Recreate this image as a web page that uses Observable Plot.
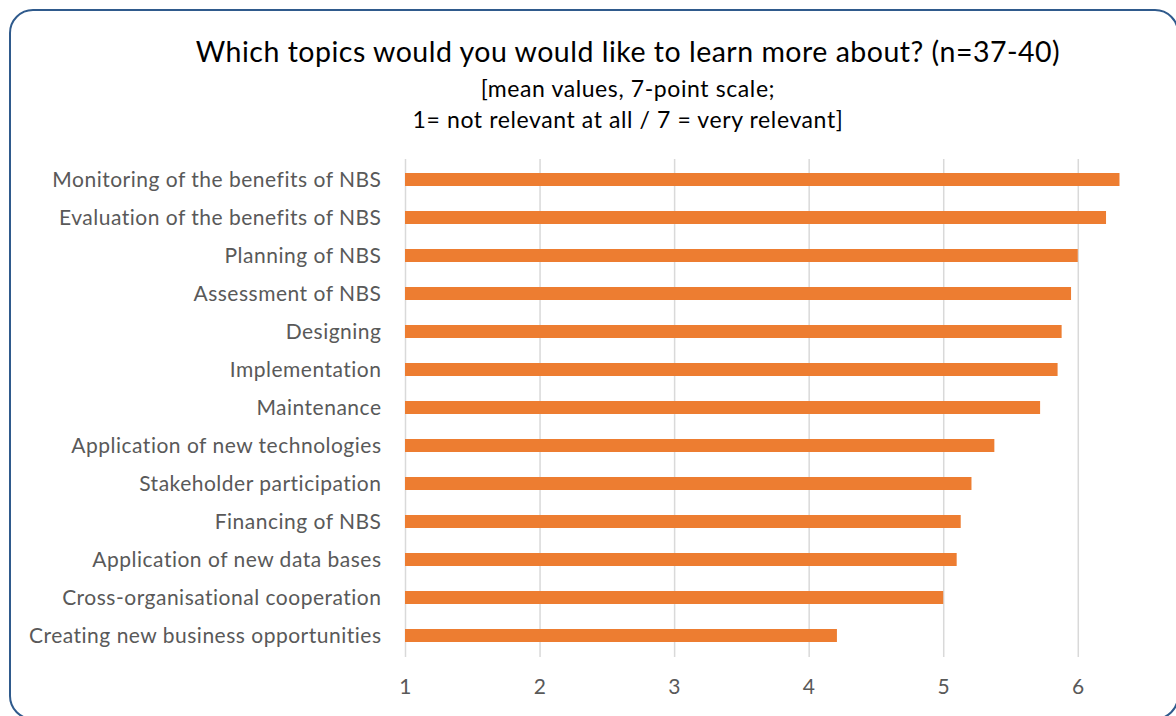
<!DOCTYPE html>
<html>
<head>
<meta charset="utf-8">
<script src="https://cdn.jsdelivr.net/npm/d3@7"></script>
<script src="https://cdn.jsdelivr.net/npm/@observablehq/plot@0.6"></script>
<style>
  html, body { margin: 0; padding: 0; background: #fff; overflow: hidden; }
  #wrap { position: relative; width: 1176px; height: 716px; overflow: hidden; font-family: Lato, sans-serif; }
  #frame { position: absolute; left: 9px; top: 9px; width: 1170px; height: 711px; border: 2px solid #2F5A8C; border-radius: 24px; box-sizing: border-box; }
  .t { position: absolute; left: 0; width: 1256px; text-align: center; color: #000; white-space: nowrap; line-height: 1; }
  #title { top: 37px; font-size: 28.5px; letter-spacing: 0.5px; }
  #sub1 { top: 77px; font-size: 23px; letter-spacing: 0.6px; }
  #sub2 { top: 108px; font-size: 23px; letter-spacing: 0.6px; }
  #chart { position: absolute; left: 0; top: 0; }
</style>
</head>
<body>
<div id="wrap">
  <div id="frame"></div>
  <div class="t" id="title">Which topics would you would like to learn more about? (n=37-40)</div>
  <div class="t" id="sub1">[mean values, 7-point scale;</div>
  <div class="t" id="sub2">1= not relevant at all / 7 = very relevant]</div>
  <div id="chart"></div>
</div>
<script>
const topics = [
  "Monitoring of the benefits of NBS",
  "Evaluation of the benefits of NBS",
  "Planning of NBS",
  "Assessment of NBS",
  "Designing",
  "Implementation",
  "Maintenance",
  "Application of new technologies",
  "Stakeholder participation",
  "Financing of NBS",
  "Application of new data bases",
  "Cross-organisational cooperation",
  "Creating new business opportunities"
];
const means = [6.31, 6.21, 6.00, 5.95, 5.88, 5.85, 5.72, 5.38, 5.21, 5.13, 5.10, 5.00, 4.21];
const xTicks = [1, 2, 3, 4, 5, 6];

const data = topics.map((t, i) => ({topic: t, value: means[i]}));

const chart = Plot.plot({
  width: 1176,
  height: 716,
  marginLeft: 405,
  marginRight: 0,
  marginTop: 159,
  marginBottom: 59,
  style: {fontFamily: "Lato, sans-serif", fontSize: "21px", letterSpacing: "0.5px", color: "#595959", background: "transparent"},
  x: {domain: [1, 6.73], ticks: xTicks, tickFormat: d => String(d), label: null},
  y: {domain: topics, paddingInner: 0.65, paddingOuter: 0.32, label: null},
  marks: [
    Plot.gridX(xTicks, {stroke: "#D9D9D9", strokeOpacity: 1, strokeWidth: 1.5}),
    Plot.barX(data, {x1: () => 1, x2: "value", y: "topic", fill: "#ED7D31"}),
    Plot.axisX(xTicks, {tickSize: 0, tickPadding: 22, tickFormat: d => String(d), fontSize: 21, fill: "#595959", label: null}),
    Plot.axisY({tickSize: 0, tickPadding: 24, fontSize: 21, fill: "#595959", label: null})
  ]
});
document.getElementById("chart").appendChild(chart);
</script>
</body>
</html>
